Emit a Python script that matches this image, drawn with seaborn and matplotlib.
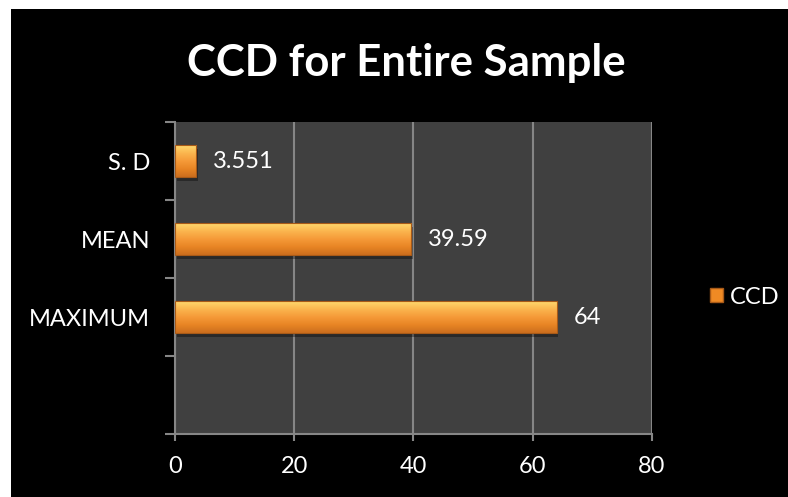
import numpy as np
import pandas as pd
import matplotlib
matplotlib.use("Agg")
import matplotlib.pyplot as plt
from matplotlib.patches import Patch, Rectangle
from matplotlib.colors import LinearSegmentedColormap
import seaborn as sns

# Summary statistics of CCD
categories = ["S. D", "MEAN", "MAXIMUM"]
values = [3.551, 39.59, 64]
value_labels = ["3.551", "39.59", "64"]
slot_order = ["S. D", "MEAN", "MAXIMUM", ""]
x_ticks = [0, 20, 40, 60, 80]
series_name = "CCD"
title = "CCD for Entire Sample"

df = pd.DataFrame({"category": categories, "value": values})

sns.set_theme(style="dark")
plt.rcParams["font.family"] = ["Lato", "DejaVu Sans"]
FS = 17

fig = plt.figure(figsize=(7.88, 4.97), dpi=100, facecolor="black")
# thin white margin along the left and top edges
fig.patches.append(Rectangle((0, 0), 11 / 788, 1, transform=fig.transFigure,
                             facecolor="white", edgecolor="none", zorder=-1))
fig.patches.append(Rectangle((0, 1 - 9 / 497), 1, 9 / 497, transform=fig.transFigure,
                             facecolor="white", edgecolor="none", zorder=-1))

ax = fig.add_axes([175 / 788, 1 - 434 / 497, 477 / 788, 312 / 497])
ax.set_facecolor("#404040")

sns.barplot(data=df, x="value", y="category", order=slot_order, orient="h",
            color="#F08A24", width=0.4, edgecolor="#A85A18", linewidth=0.8,
            ax=ax, zorder=3)

# beveled orange fill: light on top, darker towards the bottom
grad = LinearSegmentedColormap.from_list(
    "bevel", ["#FFD86E", "#FBB54E", "#F59A38", "#E88524", "#CC6E1E"])
for p in ax.patches:
    x0, y0 = p.get_x(), p.get_y()
    w, h = p.get_width(), p.get_height()
    if not np.isfinite(w) or w <= 0:
        continue
    # soft shadow under each bar
    ax.add_patch(Rectangle((x0 + 0.3, y0 + 0.05), w, h, facecolor="black",
                           alpha=0.35, edgecolor="none", zorder=2))
    img = ax.imshow(np.linspace(0, 1, 64).reshape(-1, 1), cmap=grad, aspect="auto",
                    extent=(x0, x0 + w, y0 + h, y0), origin="upper", zorder=3.5,
                    interpolation="bicubic")
    img.set_clip_path(p)
    p.set_facecolor("none")
    p.set_zorder(4)

for cat, v, lab in zip(categories, values, value_labels):
    yi = slot_order.index(cat)
    ax.annotate(lab, xy=(v, yi), xytext=(12, 0), textcoords="offset points",
                ha="left", va="center", color="white", fontsize=FS)

ax.set_xlim(0, 80)
ax.set_ylim(3.5, -0.5)
ax.set_xticks(x_ticks)
ax.set_xticklabels([str(t) for t in x_ticks], color="white", fontsize=FS)

# ticks at slot boundaries, labels at slot centres
ax.set_yticks(np.arange(-0.5, 4, 1))
ax.set_yticklabels([])
ax.set_yticks(range(len(slot_order)), minor=True)
ax.set_yticklabels(slot_order, minor=True, color="white", fontsize=FS)
ax.tick_params(axis="y", which="minor", length=0, pad=18)
ax.tick_params(axis="y", which="major", length=7, width=1.5, color="#868686", left=True)
ax.tick_params(axis="x", length=5, width=1.5, color="#868686", bottom=True, pad=11)

ax.grid(False)
ax.xaxis.grid(True, color="#868686", linewidth=1.5, zorder=1)
ax.set_axisbelow(True)
ax.set_xlabel("")
ax.set_ylabel("")
for side in ["top", "right"]:
    ax.spines[side].set_visible(False)
for side in ["left", "bottom"]:
    ax.spines[side].set_color("#868686")
    ax.spines[side].set_linewidth(1.5)

fig.text(406 / 788, 1 - 63 / 497, title, ha="center", va="center",
         color="white", fontsize=31.5, fontweight="bold")

handle = Patch(facecolor="#F08A24", edgecolor="#A85A18")
fig.legend([handle], [series_name], loc="center left",
           bbox_to_anchor=(689 / 788, 1 - 297 / 497), frameon=False,
           labelcolor="white", fontsize=FS, handlelength=0.55, handleheight=0.55,
           handletextpad=0.28)

fig.savefig("out.png", dpi=100, facecolor=fig.get_facecolor())
